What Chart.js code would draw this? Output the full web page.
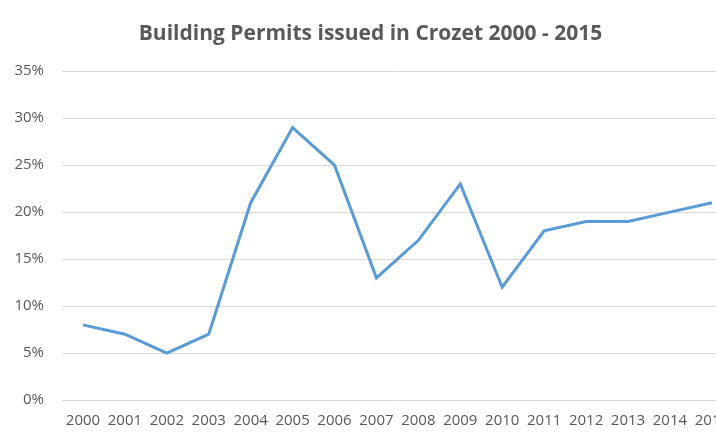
<!DOCTYPE html>
<html>
<head>
<meta charset="utf-8">
<script src="https://cdn.jsdelivr.net/npm/chart.js@4"></script>
<style>
  html, body { margin: 0; padding: 0; background: #fff; overflow: hidden; }
  #wrap { position: relative; width: 741px; height: 442px; }
</style>
</head>
<body>
<div id="wrap"><canvas id="chart"></canvas></div>
<script>
const years = ["2000", "2001", "2002", "2003", "2004", "2005", "2006", "2007",
               "2008", "2009", "2010", "2011", "2012", "2013", "2014", "2015"]
const permits = [0.08, 0.07, 0.05, 0.07, 0.21, 0.29, 0.25, 0.13,
                 0.17, 0.23, 0.12, 0.18, 0.19, 0.19, 0.20, 0.21]
const yTicks = [0, 0.05, 0.10, 0.15, 0.20, 0.25, 0.30, 0.35]

const grey = "#595959"
const font = "'Open Sans', sans-serif"

const ctx = document.getElementById("chart")

new Chart(ctx, {
    type: "line",
    data: {
        labels: years,
        datasets: [{
            label: "Building Permits",
            data: permits,
            borderColor: "#5b9bd5",
            borderWidth: 3,
            pointRadius: 0,
            tension: 0,
            fill: false
        }]
    },
    options: {
        responsive: true,
        maintainAspectRatio: false,
        animation: false,
        layout: { padding: { top: 21, right: 0, bottom: 0, left: 0 } },
        plugins: {
            legend: { display: false },
            tooltip: { enabled: false },
            title: {
                display: true,
                text: "Building Permits issued in Crozet 2000 - 2015",
                color: grey,
                font: { family: font, size: 21, weight: "bold" },
                padding: { top: 0, bottom: 25 }
            }
        },
        scales: {
            x: {
                offset: true,
                grid: { display: false, drawTicks: false },
                border: { display: false },
                ticks: {
                    color: grey,
                    font: { family: font, size: 15 },
                    maxRotation: 0,
                    autoSkip: false,
                    padding: 12
                }
            },
            y: {
                min: 0,
                max: 0.35,
                afterBuildTicks: axis => { axis.ticks = yTicks.map(v => ({ value: v })) },
                afterFit: axis => { axis.width = 62 },
                grid: { color: "#d9d9d9", drawTicks: false },
                border: { display: false },
                ticks: {
                    color: grey,
                    font: { family: font, size: 15 },
                    padding: 18,
                    callback: v => Math.round(v * 100) + "%"
                }
            }
        }
    }
})
</script>
</body>
</html>
